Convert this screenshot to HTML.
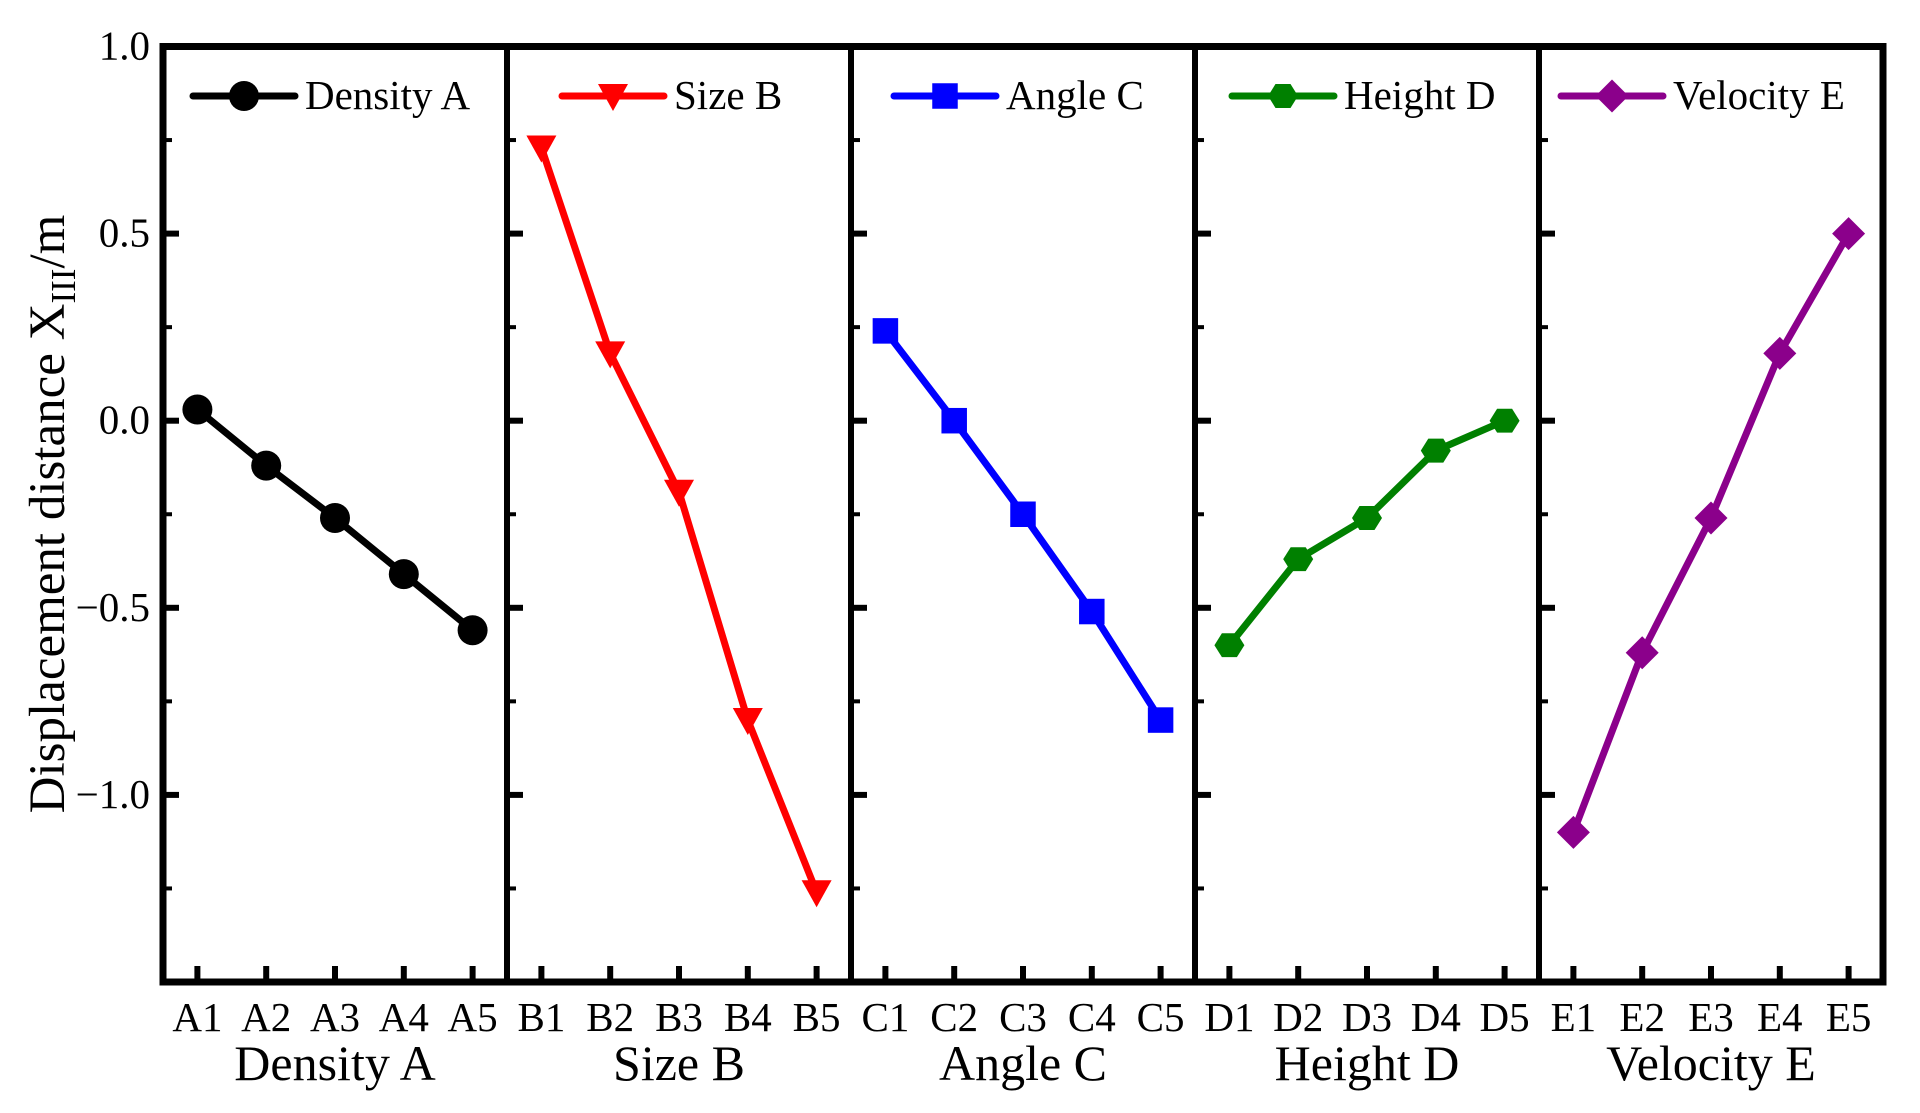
<!DOCTYPE html>
<html><head><meta charset="utf-8"><style>
html,body{margin:0;padding:0;background:#fff;}
svg{display:block;font-family:"Liberation Serif",serif;}
</style></head><body>
<svg id="chart" width="1920" height="1113" viewBox="0 0 1920 1113" xmlns="http://www.w3.org/2000/svg"></svg>
<script>
const factorNames = ["Density A","Size B","Angle C","Height D","Velocity E"];
const levelLabels = [["A1","A2","A3","A4","A5"],["B1","B2","B3","B4","B5"],["C1","C2","C3","C4","C5"],["D1","D2","D3","D4","D5"],["E1","E2","E3","E4","E5"]];
const seriesA = [0.03,-0.12,-0.26,-0.41,-0.56];
const seriesB = [0.73,0.18,-0.19,-0.80,-1.26];
const seriesC = [0.24,0.00,-0.25,-0.51,-0.80];
const seriesD = [-0.60,-0.37,-0.26,-0.08,0.00];
const seriesE = [-1.10,-0.62,-0.26,0.18,0.50];
const yTickValues = [1.0,0.5,0.0,-0.5,-1.0];
const yTickLabels = ["1.0","0.5","0.0","\u22120.5","\u22121.0"];
const yMinorValues = [0.75,0.25,-0.25,-0.75,-1.25];

const allSeries=[seriesA,seriesB,seriesC,seriesD,seriesE];
const colors=["#000000","#ff0000","#0000ff","#008000","#8b008b"];
const markers=["circle","tri","square","hex","diamond"];
const legendOffsets=[30,55,43,37,22];
const NS="http://www.w3.org/2000/svg";
const svg=document.getElementById('chart');
const L=163,R=1883,T=46.5,B=982,yMax=1.0,yMin=-1.5;
const PW=(R-L)/5;
function y(v){return T+(yMax-v)/(yMax-yMin)*(B-T);}
function x(p,i){return L+p*PW+(i+0.5)*PW/5;}
function el(tag,attrs,parent){const e=document.createElementNS(NS,tag);for(const k in attrs)e.setAttribute(k,attrs[k]);(parent||svg).appendChild(e);return e;}
function marker(type,cx,cy,color,g){
  const s=15;let e;
  if(type==="circle")e=el('circle',{cx:cx,cy:cy,r:s},g);
  else if(type==="tri")e=el('polygon',{points:`${cx-s},${cy-s*0.8} ${cx+s},${cy-s*0.8} ${cx},${cy+s*1.0}`},g);
  else if(type==="square")e=el('rect',{x:cx-s*0.85,y:cy-s*0.85,width:s*1.7,height:s*1.7},g);
  else if(type==="hex"){let p=[];for(let k=0;k<6;k++){const a=Math.PI/3*k;p.push((cx+s*Math.cos(a))+","+(cy+s*0.92*Math.sin(a)));}e=el('polygon',{points:p.join(' ')},g);}
  else e=el('polygon',{points:`${cx},${cy-s*1.1} ${cx+s*1.1},${cy} ${cx},${cy+s*1.1} ${cx-s*1.1},${cy}`},g);
  e.setAttribute('fill',color);
  return e;
}
for(let p=0;p<5;p++){
  const px=L+p*PW;
  const g=el('g',{});
  
  
  yTickValues.forEach(v=>{ if(v<yMax){const t=el('line',{x1:px,x2:px+16,y1:y(v),y2:y(v),stroke:'#000','stroke-width':6},g);
    }});
  yMinorValues.forEach(v=>{const t=el('line',{x1:px,x2:px+9,y1:y(v),y2:y(v),stroke:'#000','stroke-width':4},g);
    });
  levelLabels[p].forEach((lab,i)=>{
    const t=el('line',{x1:x(p,i),x2:x(p,i),y1:B,y2:B-16,stroke:'#000','stroke-width':6},g);
    
    const tx=el('text',{x:x(p,i),y:1031,'text-anchor':'middle','font-size':41},g);
    tx.textContent=lab;
    
  });
  const ti=el('text',{x:px+PW/2,y:1080,'text-anchor':'middle','font-size':50},g);
  ti.textContent=factorNames[p];
  
  const s=allSeries[p];
  const pts=s.map((v,i)=>x(p,i)+","+y(v)).join(' ');
  const line=el('polyline',{points:pts,fill:'none',stroke:colors[p],'stroke-width':7,'stroke-linejoin':'round'},g);
  
  s.forEach((v,i)=>{const m=marker(markers[p],x(p,i),y(v),colors[p],g);
    });
  const lg=el('g',{},g);
  
  const lx=px+legendOffsets[p],ly=96;
  el('line',{x1:lx,x2:lx+102,y1:ly,y2:ly,stroke:colors[p],'stroke-width':7,'stroke-linecap':'round'},lg);
  marker(markers[p],lx+51,ly,colors[p],lg);
  const lt=el('text',{x:lx+112,y:ly+13,'font-size':41},lg);
  lt.textContent=factorNames[p];
}
const fr=el('rect',{x:L,y:T,width:R-L,height:B-T,fill:'none',stroke:'#000','stroke-width':7});

for(let p=1;p<5;p++){const s=el('line',{x1:L+p*PW,x2:L+p*PW,y1:T,y2:B,stroke:'#000','stroke-width':6});
  }
yTickValues.forEach((v,i)=>{const t=el('text',{x:150,y:y(v)+13,'text-anchor':'end','font-size':41});
  t.textContent=yTickLabels[i];
  });
const yt=el('text',{x:0,y:0,'font-size':51,'text-anchor':'middle',transform:'translate(64,514) rotate(-90)'});

yt.appendChild(document.createTextNode('Displacement distance X'));
const sub=document.createElementNS(NS,'tspan');sub.setAttribute('font-size',35);sub.setAttribute('dy',11);sub.textContent='III';yt.appendChild(sub);
const rest=document.createElementNS(NS,'tspan');rest.setAttribute('dy',-11);rest.textContent='/m';yt.appendChild(rest);
</script>
</body></html>
